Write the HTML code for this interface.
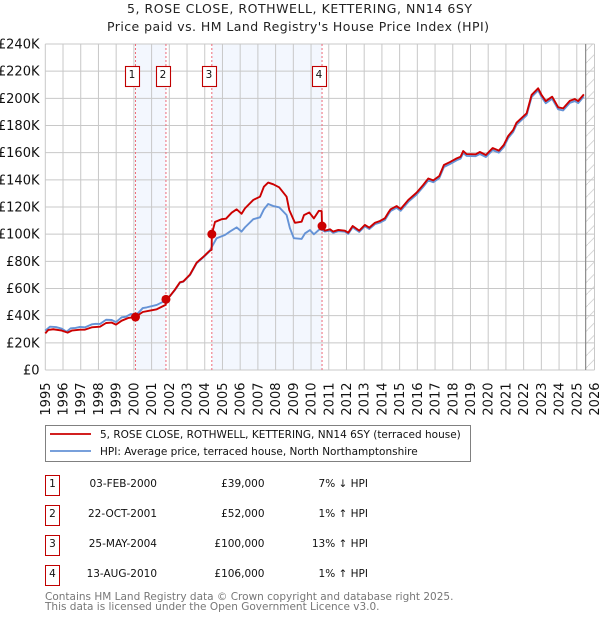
<!DOCTYPE html>
<html>
<head>
<meta charset="utf-8">
<title>5, ROSE CLOSE price chart</title>
<style>
html,body{margin:0;padding:0;background:#fff;width:600px;height:620px;overflow:hidden}
svg{display:block;font-family:"DejaVu Sans","Liberation Sans",sans-serif}
</style>
</head>
<body>
<svg id="chart" width="600" height="620" viewBox="0 0 600 620" xmlns="http://www.w3.org/2000/svg">
  <defs>
    <pattern id="hatch" patternUnits="userSpaceOnUse" width="12" height="12.2">
      <line x1="0" y1="12.2" x2="12" y2="0" stroke="#cfcfcf" stroke-width="0.8"/>
    </pattern>
  </defs>
  <text x="127" y="13" font-size="12.5" fill="#222" textLength="345" lengthAdjust="spacing">5, ROSE CLOSE, ROTHWELL, KETTERING, NN14 6SY</text>
  <text x="107" y="31" font-size="12.5" fill="#222" textLength="382" lengthAdjust="spacing">Price paid vs. HM Land Registry's House Price Index (HPI)</text>
  <g id="plot"></g>

  <g>
    <rect x="45.5" y="425.5" width="425" height="36" fill="#fff" stroke="#808080" stroke-width="1"/>
    <line x1="50" y1="434" x2="91" y2="434" stroke="#cc0000" stroke-width="1.8"/>
    <text x="100" y="438" font-size="10.5" fill="#111">5, ROSE CLOSE, ROTHWELL, KETTERING, NN14 6SY (terraced house)</text>
    <line x1="50" y1="451" x2="91" y2="451" stroke="#6593d6" stroke-width="1.8"/>
    <text x="100" y="455" font-size="10.5" fill="#111">HPI: Average price, terraced house, North Northamptonshire</text>
  </g>

  <g font-size="10.5" fill="#111">
    <g>
      <rect x="45.5" y="475.5" width="14" height="20" fill="#fff" stroke="#c00000" stroke-width="1"/>
      <text x="52.5" y="487" text-anchor="middle">1</text>
      <text x="157" y="487" text-anchor="end">03-FEB-2000</text>
      <text x="264.5" y="487" text-anchor="end">£39,000</text>
      <text x="368" y="487" text-anchor="end">7% ↓ HPI</text>
    </g>
    <g>
      <rect x="45.5" y="505.5" width="14" height="20" fill="#fff" stroke="#c00000" stroke-width="1"/>
      <text x="52.5" y="517" text-anchor="middle">2</text>
      <text x="157" y="517" text-anchor="end">22-OCT-2001</text>
      <text x="264.5" y="517" text-anchor="end">£52,000</text>
      <text x="368" y="517" text-anchor="end">1% ↑ HPI</text>
    </g>
    <g>
      <rect x="45.5" y="535.5" width="14" height="20" fill="#fff" stroke="#c00000" stroke-width="1"/>
      <text x="52.5" y="547" text-anchor="middle">3</text>
      <text x="157" y="547" text-anchor="end">25-MAY-2004</text>
      <text x="264.5" y="547" text-anchor="end">£100,000</text>
      <text x="368" y="547" text-anchor="end">13% ↑ HPI</text>
    </g>
    <g>
      <rect x="45.5" y="565.5" width="14" height="20" fill="#fff" stroke="#c00000" stroke-width="1"/>
      <text x="52.5" y="577" text-anchor="middle">4</text>
      <text x="157" y="577" text-anchor="end">13-AUG-2010</text>
      <text x="264.5" y="577" text-anchor="end">£106,000</text>
      <text x="368" y="577" text-anchor="end">1% ↑ HPI</text>
    </g>
  </g>

  <text x="45" y="600" font-size="10.5" fill="#777">Contains HM Land Registry data © Crown copyright and database right 2025.</text>
  <text x="45" y="610" font-size="10.5" fill="#777">This data is licensed under the Open Government Licence v3.0.</text>
</svg>
<script>
const yearTicks = [1995,1996,1997,1998,1999,2000,2001,2002,2003,2004,2005,2006,2007,2008,2009,2010,2011,2012,2013,2014,2015,2016,2017,2018,2019,2020,2021,2022,2023,2024,2025,2026];
const priceTicks = [0,20,40,60,80,100,120,140,160,180,200,220,240];
const priceTickLabels = ['£0','£20K','£40K','£60K','£80K','£100K','£120K','£140K','£160K','£180K','£200K','£220K','£240K'];
const saleNumbers = [1,2,3,4];
const saleDates = [2000.09,2001.81,2004.40,2010.62];
const salePrices = [39,52,100,106];
const dataEndDate = 2025.5;

const hpiDates = [
  1995,1995.27,1995.6,1995.93,1996.2,1996.43,1996.7,1996.96,1997.24,1997.62,
  1997.85,1998.09,1998.43,1998.75,1998.99,1999.31,1999.55,1999.82,2000.06,2000.25,
  2000.5,2000.72,2001.29,2001.66,2002.04,2002.32,2002.6,2002.79,2003.17,2003.54,
  2003.96,2004.25,2004.67,2005.14,2005.42,2005.8,2006.08,2006.27,2006.74,2007.12,
  2007.34,2007.58,2007.87,2008.2,2008.62,2008.81,2009.03,2009.47,2009.66,2009.94,
  2010.16,2010.5,2010.78,2011.07,2011.25,2011.54,2011.91,2012.1,2012.35,2012.72,
  2013.04,2013.29,2013.61,2013.89,2014.17,2014.36,2014.49,2014.83,2015.06,2015.49,
  2015.96,2016.33,2016.62,2016.9,2017.24,2017.5,2017.84,2018.22,2018.44,2018.59,
  2018.78,2019.29,2019.53,2019.87,2020.25,2020.6,2020.88,2021.13,2021.41,2021.6,
  2022.17,2022.45,2022.82,2023.01,2023.25,2023.61,2023.95,2024.23,2024.61,2024.89,
  2025.08,2025.4];
const hpiValues = [
  29,31.9,31.6,30.4,28.2,30.7,31,31.7,31.4,33.6,
  34,33.9,37,36.8,35.3,38.8,39.2,41.2,41,42,
  45.6,46.1,47.9,50.3,54.5,58.9,64.3,65,70,78.6,
  83.4,87.1,97,99.4,101.9,105,101.9,105,111,112.4,
  118.3,122.2,120.7,119.8,114.1,104.3,97,96.5,100.6,103,
  99.9,103.8,101.9,102.6,101,102.2,101.8,100.2,105,101.6,
  105.8,103.8,107.4,108.5,110.4,114.5,117,119.4,117.2,123.8,
  129.2,134.8,139.6,138.2,141.3,149.4,151.6,154.4,155.6,159.7,
  157.6,157.4,159,156.8,161.9,160,164.2,170.8,175.2,180.6,
  187.5,201,205.9,201,196.4,199.7,191.9,191.1,196.7,198,
  196.5,201.4];

const paidDates = [
  1995,1995.17,1995.45,1995.93,1996.26,1996.49,1996.96,1997.24,1997.62,1998.09,
  1998.43,1998.75,1998.99,1999.31,1999.68,2000.09,2000.5,2000.81,2001.29,2001.66,
  2001.8,2001.81,2002.04,2002.32,2002.6,2002.79,2003.17,2003.54,2003.96,2004.25,
  2004.39,2004.4,2004.58,2004.95,2005.2,2005.52,2005.8,2006.08,2006.27,2006.74,
  2007.12,2007.34,2007.58,2007.87,2008.2,2008.62,2008.77,2009.09,2009.47,2009.6,
  2009.9,2010.16,2010.44,2010.6,2010.62,2010.78,2011.07,2011.25,2011.54,2011.91,
  2012.1,2012.35,2012.72,2013.04,2013.29,2013.61,2013.89,2014.17,2014.36,2014.49,
  2014.83,2015.06,2015.49,2015.96,2016.33,2016.62,2016.9,2017.24,2017.5,2017.84,
  2018.22,2018.44,2018.59,2018.78,2019.29,2019.53,2019.87,2020.25,2020.6,2020.88,
  2021.13,2021.41,2021.6,2022.17,2022.45,2022.82,2023.01,2023.25,2023.61,2023.95,
  2024.23,2024.61,2024.89,2025.08,2025.4];
const paidValues = [
  27,29.5,30,29,27.5,29,29.7,29.7,31.4,31.9,
  34.6,34.9,33.4,36.3,38.3,39,42.7,43.5,44.7,47.1,
  48,52,54.5,59.2,64.6,65.2,70.3,79,83.8,87.5,
  88.5,100,109,111,111.4,115.8,118.3,115,119,125.2,
  127.6,135,138,136.7,134.5,127.6,117.8,108.4,109.2,114,
  116,111.6,117.2,117,106,102.6,103.6,101.9,103.1,102.6,
  101.1,106,102.6,106.8,104.8,108.4,109.7,111.7,115.8,118.3,
  120.7,118.5,125.2,130.6,136.2,141,139.6,142.8,150.9,153.1,
  155.8,157,161.2,159,158.8,160.5,158.3,163.4,161.5,165.7,
  172.3,176.7,182.1,189,202.5,207.4,202.5,198,201.2,193.4,
  192.6,198.2,199.5,198,202.9];

const plotLeft = 45.3, plotRight = 594.5, plotTop = 44, plotBottom = 370;
const xScale = d => plotLeft + (d - 1995) * (plotRight - plotLeft) / 31;
const yScale = v => plotBottom - v * (plotBottom - plotTop) / 240;

const NS = 'http://www.w3.org/2000/svg';
const plot = document.getElementById('plot');
function mk(tag, attrs, parent, text) {
  const el = document.createElementNS(NS, tag);
  for (const k in attrs) el.setAttribute(k, attrs[k]);
  if (text !== undefined) el.textContent = text;
  (parent || plot).appendChild(el);
  return el;
}

// shaded ownership spans
for (let i = 0; i < saleDates.length; i += 2) {
  const band = mk('rect', {x: xScale(saleDates[i]), y: plotTop, width: xScale(saleDates[i + 1]) - xScale(saleDates[i]), height: plotBottom - plotTop, fill: '#f3f7fe'});
  
  
}

// hatched future region
const hatch = mk('rect', {x: xScale(dataEndDate), y: plotTop, width: plotRight - xScale(dataEndDate), height: plotBottom - plotTop, fill: 'url(#hatch)'});



// grid
yearTicks.forEach(yr => {
  const x = xScale(yr);
  const g = mk('line', {x1: x, x2: x, y1: plotTop, y2: plotBottom, stroke: '#c8c8c8', 'stroke-width': 1});
  
  
  const t = mk('text', {transform: 'translate(' + (x + 4.5) + ',382.5) rotate(-90)', 'text-anchor': 'end', 'font-size': 13, fill: '#111'}, plot, String(yr));
  
  
});
priceTicks.forEach((v, i) => {
  const y = yScale(v);
  const g = mk('line', {x1: plotLeft, x2: plotRight, y1: y, y2: y, stroke: '#c8c8c8', 'stroke-width': 1});
  
  
  const t = mk('text', {x: 39.5, y: y + 4.5, 'text-anchor': 'end', 'font-size': 13, fill: '#111'}, plot, priceTickLabels[i]);
  
  
});

// data end marker
const endLine = mk('line', {x1: xScale(dataEndDate), x2: xScale(dataEndDate), y1: plotTop, y2: plotBottom, stroke: '#8c8c8c', 'stroke-width': 1.2});



// sale guide lines
saleDates.forEach(d => {
  const l = mk('line', {x1: xScale(d), x2: xScale(d), y1: plotTop, y2: plotBottom, stroke: '#ee6a78', 'stroke-width': 1, 'stroke-dasharray': '2 2'});
  
  
});

function pathFrom(dates, values) {
  return dates.map((d, i) => (i ? 'L' : 'M') + xScale(d).toFixed(2) + ' ' + yScale(values[i]).toFixed(2)).join('');
}
const hpiLine = mk('path', {d: pathFrom(hpiDates, hpiValues), fill: 'none', stroke: '#6593d6', 'stroke-width': 1.9, 'stroke-linejoin': 'round'});


const paidLine = mk('path', {d: pathFrom(paidDates, paidValues), fill: 'none', stroke: '#cc0000', 'stroke-width': 1.9, 'stroke-linejoin': 'round'});



// sale markers and badges
saleDates.forEach((d, i) => {
  const c = mk('circle', {cx: xScale(d), cy: yScale(salePrices[i]), r: 4.5, fill: '#cc0000'});
  
  
  const x = xScale(d) - 3;
  const r = mk('rect', {x: Math.round(x - 7) + 0.5, y: 66.5, width: 14, height: 20, fill: '#fff', stroke: '#c00000', 'stroke-width': 1.1});
  
  
  const t = mk('text', {x: Math.round(x - 7) + 7, y: 78, 'text-anchor': 'middle', 'font-size': 10.5, fill: '#111'}, plot, String(saleNumbers[i]));
  
  
});
</script>
</body>
</html>
